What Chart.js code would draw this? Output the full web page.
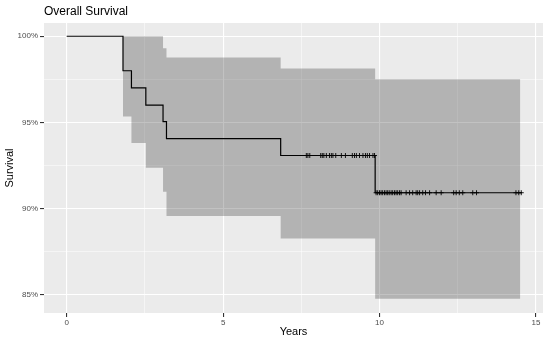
<!DOCTYPE html>
<html lang="en">
<head>
  <meta charset="UTF-8">
  <title>Overall Survival</title>
  <script src="https://cdn.jsdelivr.net/npm/chart.js@4.4.1/dist/chart.umd.min.js"></script>
  <style>
    html, body { margin: 0; padding: 0; background: #fff; }
    #wrap { width: 550px; height: 343px; }
  </style>
</head>
<body>
  <div id="wrap"><canvas id="km" width="550" height="343"></canvas></div>

  <script>
    // Kaplan-Meier step curve (time in years, survival in %)
    const survTimes = [0, 1.80, 2.07, 2.53, 3.08, 3.19, 6.84, 9.86, 14.55]
    const survPct   = [100, 98.0, 97.0, 96.0, 95.05, 94.06, 93.08, 90.92, 90.92]

    // confidence band
    const bandTimes = [0, 1.80, 2.07, 2.53, 3.08, 3.19, 6.84, 9.86, 14.50]
    const upperPct  = [100, 100, 100, 100, 99.3, 98.77, 98.13, 97.5, 97.5]
    const lowerPct  = [100, 95.35, 93.8, 92.37, 90.98, 89.57, 88.27, 84.77, 84.77]

    // censored observations
    const censorTimes = [
      7.66, 7.71, 7.77, 8.12, 8.17, 8.22, 8.30, 8.40, 8.46, 8.51, 8.60, 8.78, 8.91,
      9.13, 9.20, 9.26, 9.36, 9.47, 9.55, 9.61, 9.68, 9.79, 9.84,
      9.89, 9.94, 10.0, 10.05, 10.10, 10.16, 10.21, 10.26, 10.31, 10.37, 10.42, 10.48,
      10.53, 10.58, 10.64, 10.69, 10.85, 10.96, 11.06, 11.17, 11.22, 11.28, 11.38,
      11.47, 11.60, 11.81, 11.97, 12.37, 12.45, 12.55, 12.66, 12.98, 13.10,
      14.36, 14.45, 14.53
    ]

    const xTicks = [0, 2.5, 5, 7.5, 10, 12.5, 15]
    const xLabels = ['0', '', '5', '', '10', '', '15']
    const yTicks = [85, 87.5, 90, 92.5, 95, 97.5, 100]
    const yLabels = ['85%', '', '90%', '', '95%', '', '100%']

    const FONT = '"Liberation Sans", Arial, Helvetica, sans-serif'

    function survAt(t) {
      let v = survPct[0]
      for (let i = 0; i < survTimes.length; i++) {
        if (survTimes[i] <= t) v = survPct[i]
      }
      return v
    }

    const pts = (xs, ys) => xs.map((x, i) => ({ x: x, y: ys[i] }))

    const panelBg = {
      id: 'panelBg',
      beforeDraw(chart) {
        const a = chart.chartArea
        const ctx = chart.ctx
        ctx.save()
        ctx.fillStyle = '#ebebeb'
        ctx.fillRect(a.left, a.top, a.right - a.left, a.bottom - a.top)
        ctx.restore()
      },
      afterDraw(chart) {
        const ctx = chart.ctx
        ctx.save()
        ctx.fillStyle = '#000'
        ctx.font = '12px ' + FONT
        ctx.textBaseline = 'middle'
        ctx.textAlign = 'left'
        ctx.fillText('Overall Survival', chart.chartArea.left, 12)
        ctx.restore()
      }
    }

    function gridOpts(labels) {
      return {
        color: '#ffffff',
        lineWidth: c => (c.tick && labels[c.index] !== '' ? 1.1 : 0.5),
        tickColor: c => (c.tick && labels[c.index] !== '' ? '#333333' : 'rgba(0,0,0,0)'),
        tickLength: 4,
        drawTicks: true
      }
    }

    new Chart(document.getElementById('km'), {
      type: 'scatter',
      data: {
        datasets: [
          {
            type: 'line', label: 'upper', data: pts(bandTimes, upperPct),
            stepped: 'before', pointRadius: 0, borderColor: 'rgba(0,0,0,0)',
            fill: false, order: 3
          },
          {
            type: 'line', label: 'lower', data: pts(bandTimes, lowerPct),
            stepped: 'before', pointRadius: 0, borderColor: 'rgba(0,0,0,0)',
            backgroundColor: 'rgba(0,0,0,0.24)', fill: '-1', order: 2
          },
          {
            type: 'line', label: 'survival', data: pts(survTimes, survPct),
            stepped: 'before', pointRadius: 0, borderColor: '#000',
            borderWidth: 1.2, fill: false, order: 1
          },
          {
            type: 'scatter', label: 'censored',
            data: censorTimes.map(t => ({ x: t, y: survAt(t) })),
            pointStyle: 'cross', pointRadius: 2.5, borderColor: '#000',
            borderWidth: 0.9, order: 0
          }
        ]
      },
      options: {
        responsive: false,
        animation: false,
        events: [],
        layout: { padding: { top: 23, right: 7, left: 0, bottom: 0 } },
        plugins: { legend: { display: false }, tooltip: { enabled: false }, title: { display: false } },
        scales: {
          x: {
            type: 'linear', min: -0.725, max: 15.225,
            afterBuildTicks: s => { s.ticks = xTicks.map(v => ({ value: v })) },
            afterFit: s => { s.height = 30 },
            ticks: {
              autoSkip: false, maxRotation: 0, padding: 1, color: '#4d4d4d',
              font: { family: FONT, size: 8 },
              callback: (v, i) => xLabels[i]
            },
            grid: gridOpts(xLabels),
            border: { display: false },
            title: {
              display: true, text: 'Years', color: '#000',
              font: { family: FONT, size: 11 }, padding: { top: 0, bottom: 4 }
            }
          },
          y: {
            type: 'linear', min: 83.94, max: 100.77,
            afterBuildTicks: s => { s.ticks = yTicks.map(v => ({ value: v })) },
            afterFit: s => { s.width = 44 },
            ticks: {
              autoSkip: false, padding: 2, color: '#4d4d4d',
              font: { family: FONT, size: 8 },
              callback: (v, i) => yLabels[i]
            },
            grid: gridOpts(yLabels),
            border: { display: false },
            title: {
              display: true, text: 'Survival', color: '#000',
              font: { family: FONT, size: 11 }, padding: { top: 3, bottom: 0 }
            }
          }
        }
      },
      plugins: [panelBg]
    })
  </script>
</body>
</html>
